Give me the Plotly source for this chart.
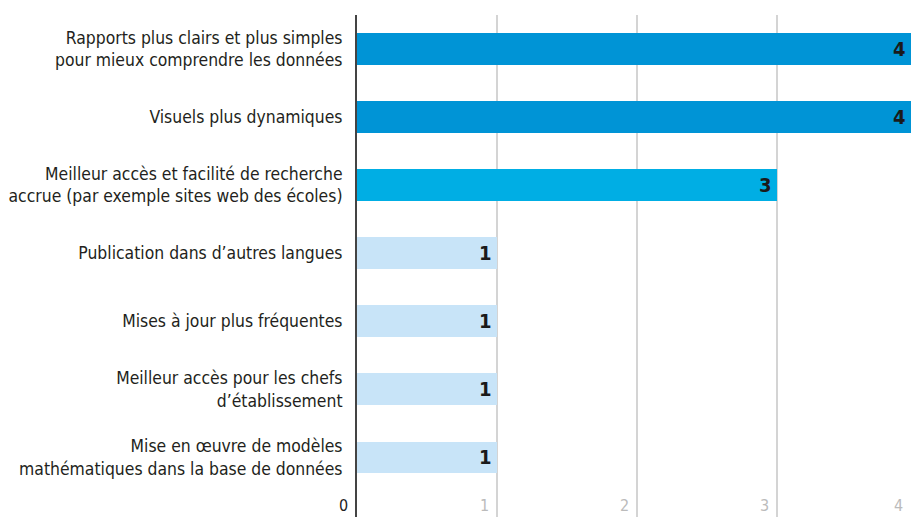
import plotly.graph_objects as go

categories = [
    "Rapports plus clairs et plus simples<br>pour mieux comprendre les données",
    "Visuels plus dynamiques",
    "Meilleur accès et facilité de recherche<br>accrue (par exemple sites web des écoles)",
    "Publication dans d’autres langues",
    "Mises à jour plus fréquentes",
    "Meilleur accès pour les chefs<br>d’établissement",
    "Mise en œuvre de modèles<br>mathématiques dans la base de données",
]
values = [4, 4, 3, 1, 1, 1, 1]
bar_colors = ["#0094d6", "#0094d6", "#00aee4", "#c8e4f8", "#c8e4f8", "#c8e4f8", "#c8e4f8"]
x_ticks = [0, 1, 2, 3, 4]

XMAX = 3.96
FONT = "DejaVu Sans Condensed, sans-serif"

fig = go.Figure(go.Bar(
    y=list(range(len(categories))),
    x=values,
    orientation="h",
    marker=dict(color=bar_colors, line=dict(width=0)),
    width=0.46,
    hoverinfo="skip",
))

annotations = []
for i, v in enumerate(values):
    annotations.append(dict(
        x=min(v, XMAX), y=i, xref="x", yref="y", text=f"<b>{v}</b>",
        showarrow=False, xanchor="right", yanchor="middle", xshift=-3,
        font=dict(family=FONT, size=20, color="#1a1a1a"),
    ))
for t in x_ticks:
    annotations.append(dict(
        x=min(t, XMAX), y=0, xref="x", yref="paper", text=str(t),
        showarrow=False, xanchor="right", yanchor="bottom",
        xshift=-6 if t > 0 else -7, yshift=0,
        font=dict(family=FONT, size=16, color="#222222" if t == 0 else "#bbbbbb"),
    ))

fig.update_layout(
    width=911, height=517,
    margin=dict(l=357, r=0, t=15, b=0, autoexpand=False),
    paper_bgcolor="white", plot_bgcolor="white",
    showlegend=False,
    bargap=0,
    font=dict(family=FONT, size=17.4, color="#231f20"),
    annotations=annotations,
    xaxis=dict(
        range=[0, XMAX], dtick=1, tick0=0, showgrid=True, gridcolor="#d4d4d4", gridwidth=1.5,
        showticklabels=False, zeroline=False, showline=False, fixedrange=True, automargin=False,
    ),
    yaxis=dict(
        tickmode="array", tickvals=list(range(len(categories))), ticktext=categories,
        range=[6.88, -0.5], showgrid=False, zeroline=False,
        showline=True, linecolor="#444444", linewidth=2,
        ticks="", ticklabelstandoff=9, automargin=False,
        tickfont=dict(family=FONT, size=17.4, color="#231f20"),
        fixedrange=True,
    ),
)

fig.write_html("out.html")
